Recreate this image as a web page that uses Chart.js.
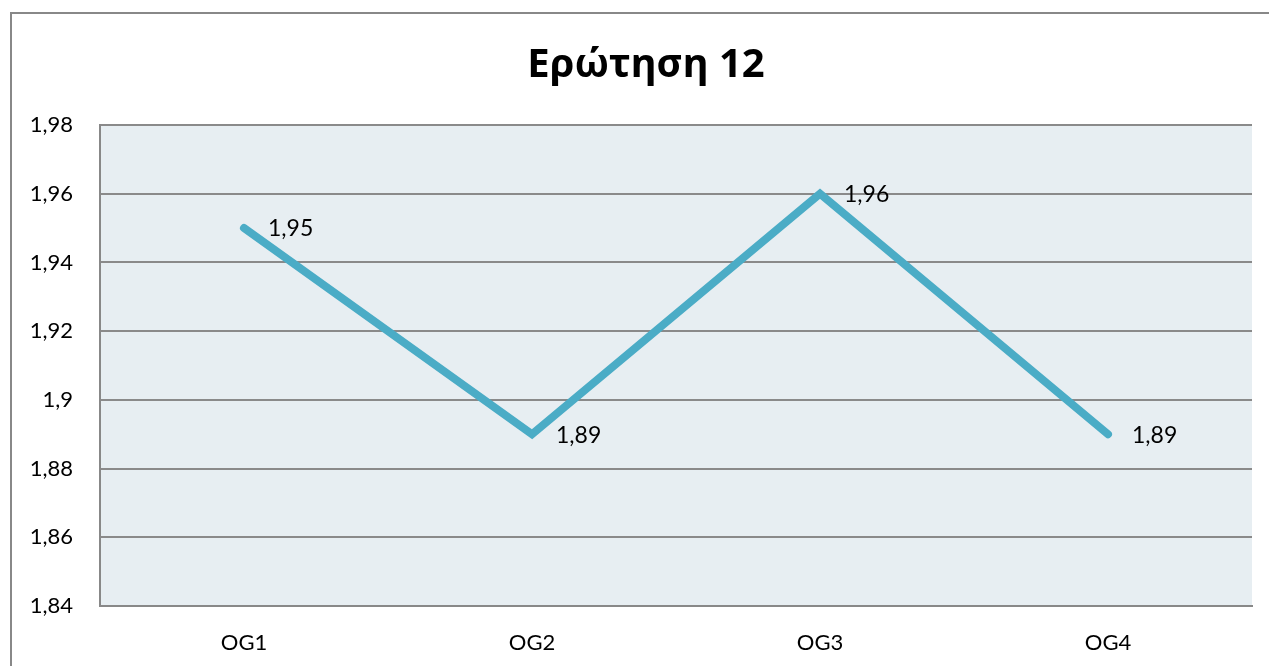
<!DOCTYPE html>
<html>
<head>
<meta charset="utf-8">
<script src="https://cdn.jsdelivr.net/npm/chart.js@4"></script>
<style>
  html, body { margin: 0; padding: 0; background: #fff; overflow: hidden; }
  canvas { display: block; }
</style>
</head>
<body>
<canvas id="chart" width="1269" height="666"></canvas>
<script>
// Δεδομένα του γραφήματος
const categories = ['OG1', 'OG2', 'OG3', 'OG4'];
const values = [1.95, 1.89, 1.96, 1.89];
const yMin = 1.84;
const yMax = 1.98;
const yStep = 0.02;
const chartTitle = 'Ερώτηση 12';

const fmt = v => Number(v.toFixed(2)).toString().replace('.', ',');

// πλαίσιο, τίτλος και φόντο της περιοχής σχεδίασης
const decor = {
  id: 'decor',
  beforeDraw(chart) {
    const { ctx, chartArea: a } = chart;
    ctx.save();
    ctx.fillStyle = '#E7EEF2';
    ctx.fillRect(a.left, a.top, a.right - a.left, a.bottom - a.top);
    // εξωτερικό πλαίσιο (συνεχίζει έξω από την εικόνα)
    ctx.strokeStyle = '#888';
    ctx.lineWidth = 2;
    ctx.beginPath();
    ctx.moveTo(11, chart.height + 5);
    ctx.lineTo(11, 13);
    ctx.lineTo(chart.width + 5, 13);
    ctx.stroke();
    // τίτλος
    ctx.fillStyle = '#000';
    ctx.font = 'bold 40px "Noto Sans", "Open Sans", sans-serif';
    ctx.textAlign = 'center';
    ctx.textBaseline = 'middle';
    ctx.fillText(chartTitle, 646, 66);
    ctx.restore();
  },
  afterDatasetsDraw(chart) {
    // ετικέτες τιμών δεξιά από κάθε σημείο
    const { ctx } = chart;
    const meta = chart.getDatasetMeta(0);
    ctx.save();
    ctx.font = '23px Lato, "Noto Sans", sans-serif';
    ctx.fillStyle = '#000';
    ctx.textAlign = 'left';
    ctx.textBaseline = 'middle';
    meta.data.forEach((pt, i) => {
      ctx.fillText(fmt(values[i]), pt.x + 24, pt.y + 1);
    });
    ctx.restore();
  }
};

new Chart(document.getElementById('chart').getContext('2d'), {
  type: 'line',
  data: {
    labels: categories,
    datasets: [{
      data: values,
      borderColor: '#4BACC6',
      borderWidth: 8,
      borderCapStyle: 'round',
      borderJoinStyle: 'miter',
      tension: 0,
      pointRadius: 0,
      fill: false
    }]
  },
  options: {
    responsive: false,
    animation: false,
    layout: { padding: { left: 0, right: 17, top: 125, bottom: 0 } },
    plugins: {
      legend: { display: false },
      tooltip: { enabled: false },
      title: { display: false }
    },
    scales: {
      x: {
        offset: true,
        grid: { display: false, drawTicks: false },
        border: { display: true, color: '#888', width: 2 },
        ticks: { color: '#000', padding: 24, font: { family: 'Lato, "Noto Sans", sans-serif', size: 22 } },
        afterFit(scale) { scale.height = 60; }
      },
      y: {
        min: yMin,
        max: yMax,
        grid: { color: '#8a8a8a', lineWidth: 2, drawTicks: false },
        border: { display: true, color: '#888', width: 2 },
        ticks: {
          stepSize: yStep,
          color: '#000',
          padding: 27,
          font: { family: 'Lato, "Noto Sans", sans-serif', size: 22 },
          callback: v => fmt(v)
        },
        afterFit(scale) { scale.width = 100; }
      }
    }
  },
  plugins: [decor]
});
</script>
</body>
</html>
